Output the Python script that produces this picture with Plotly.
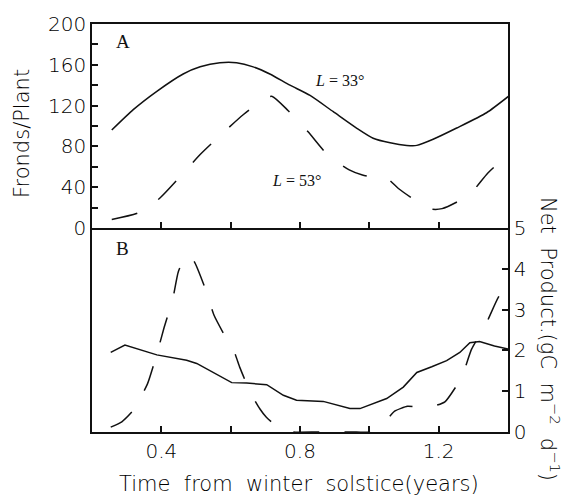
import plotly.graph_objects as go

# ---------------- data ----------------
# Panel A: Fronds/Plant
a33_x = [0.257, 0.319, 0.387, 0.463, 0.512, 0.569, 0.617, 0.665, 0.713, 0.771, 0.829,
         0.896, 0.963, 1.011, 1.060, 1.108, 1.137, 1.184, 1.252, 1.338, 1.401]
a33_y = [96, 116, 134, 151, 158, 162, 162, 158, 151, 140, 130,
         114, 98, 88, 83.5, 81, 81, 87, 98, 113, 129]

a53_x = [0.257, 0.334, 0.396, 0.456, 0.512, 0.574, 0.636, 0.699, 0.72, 0.766, 0.824,
         0.879, 0.942, 0.98, 1.026, 1.05, 1.083, 1.12, 1.15, 1.18, 1.21, 1.25, 1.29, 1.342, 1.40]
a53_y = [8.4, 14.9, 29.4, 51, 72, 92, 111, 127, 129, 115, 94,
         72, 57, 52, 49, 49, 39, 30, 23.6, 18.5, 19, 25, 33, 54, 72]

# Panel B: Net Product (gC m-2 d-1)
b33_x = [0.254, 0.295, 0.387, 0.473, 0.502, 0.56, 0.603, 0.646, 0.704, 0.752, 0.79,
         0.867, 0.906, 0.944, 0.973, 1.01, 1.05, 1.098, 1.137, 1.18, 1.223, 1.261,
         1.29, 1.318, 1.361, 1.401]
b33_y = [1.95, 2.13, 1.89, 1.76, 1.68, 1.42, 1.21, 1.20, 1.16, 0.90, 0.78,
         0.75, 0.655, 0.574, 0.574, 0.70, 0.82, 1.10, 1.46, 1.6, 1.75, 1.95,
         2.19, 2.22, 2.11, 2.03]

b53_x = [0.254, 0.286, 0.319, 0.36, 0.387, 0.408, 0.433, 0.449, 0.473, 0.494, 0.526,
         0.552, 0.59, 0.611, 0.626, 0.658, 0.684, 0.703, 0.74, 0.78, 0.85, 0.95, 1.0,
         1.04, 1.073, 1.11, 1.15, 1.18, 1.218, 1.266, 1.295, 1.336, 1.372, 1.40]
b53_y = [0.12, 0.25, 0.53, 1.18, 1.91, 2.56, 3.26, 3.93, 4.34, 4.19, 3.53,
         2.86, 2.25, 1.95, 1.59, 0.95, 0.57, 0.36, 0.1, 0, 0, 0, 0,
         0.2, 0.51, 0.63, 0.60, 0.62, 0.74, 1.34, 2.03, 2.64, 3.30, 3.61]

x_ticks = [0.4, 0.6, 0.8, 1.0, 1.2]
x_ticktext = ["0.4", "", "0.8", "", "1.2"]
a_ticks = list(range(0, 201, 20))
a_ticktext = [str(v) if v % 40 == 0 else "" for v in a_ticks]
b_ticks = [0, 1, 2, 3, 4, 5]
b_ticktext = [str(v) for v in b_ticks]

# ---------------- figure ----------------
INK = "#111111"
DASH = "26px,25px"
fig = go.Figure()
fig.add_trace(go.Scatter(x=a33_x, y=a33_y, mode="lines", xaxis="x", yaxis="y",
                         line=dict(color=INK, width=1.5, shape="spline", smoothing=0.6)))
fig.add_trace(go.Scatter(x=a53_x, y=a53_y, mode="lines", xaxis="x", yaxis="y",
                         line=dict(color=INK, width=1.5, dash=DASH, shape="spline", smoothing=0.6)))
fig.add_trace(go.Scatter(x=b33_x, y=b33_y, mode="lines", xaxis="x2", yaxis="y2",
                         line=dict(color=INK, width=1.5)))
fig.add_trace(go.Scatter(x=b53_x, y=b53_y, mode="lines", xaxis="x2", yaxis="y2",
                         line=dict(color=INK, width=1.5, dash=DASH, shape="spline", smoothing=0.5)))

tickfont = dict(family="DejaVu Sans", size=20, color="#000000", weight=300)
axcommon = dict(showline=True, linecolor=INK, linewidth=1.5,
                showgrid=False, zeroline=False, ticks="inside", ticklen=6,
                tickcolor=INK, tickwidth=1.5, tickfont=tickfont)

fig.update_layout(
    width=564, height=497,
    margin=dict(l=92, r=56, t=20, b=65),
    paper_bgcolor="white", plot_bgcolor="white",
    showlegend=False,
    xaxis=dict(range=[0.2, 1.4], domain=[0, 1], anchor="y", tickvals=x_ticks,
               showticklabels=False, mirror=True, **axcommon),
    yaxis=dict(range=[0, 200], domain=[0.5, 1], anchor="x", tickvals=a_ticks,
               ticktext=a_ticktext, mirror=True, **axcommon),
    xaxis2=dict(range=[0.2, 1.4], domain=[0, 1], anchor="y2", tickvals=x_ticks,
                ticktext=x_ticktext, mirror=False, **axcommon),
    yaxis2=dict(range=[0, 5], domain=[0, 0.5], anchor="x2", side="right",
                tickvals=b_ticks, ticktext=b_ticktext, mirror=True, **axcommon),
)

serif = dict(family="Liberation Serif", size=19, color=INK)
titlefont = dict(family="DejaVu Sans", size=21, color="#000000", weight=300)
ann = dict(showarrow=False, xanchor="center", yanchor="middle")
NB = "\u00a0"
fig.add_annotation(x=0.289, y=182.5, xref="x", yref="y", text="A", font=serif, **ann)
fig.add_annotation(x=0.289, y=4.49, xref="x2", yref="y2", text="B", font=serif, **ann)
fig.add_annotation(x=0.915, y=144.7, xref="x", yref="y", text="<i>L</i> = 33°",
                   font=dict(family="Liberation Serif", size=16, color=INK), **ann)
fig.add_annotation(x=0.791, y=46.6, xref="x", yref="y", text="<i>L</i> = 53°",
                   font=dict(family="Liberation Serif", size=16, color=INK), **ann)
fig.add_annotation(x=-0.168, y=0.7306, xref="paper", yref="paper", text="Fronds/Plant",
                   textangle=-90, font=titlefont, **ann)
fig.add_annotation(x=0.4976, y=-0.1286, xref="paper", yref="paper",
                   text=f"Time {NB}from {NB}winter {NB}solstice(years)", font=titlefont, **ann)
fig.add_annotation(x=1.101, y=0.228, xref="paper", yref="paper",
                   text=f"Net {NB}Product.(gC {NB}m<sup>−2</sup> {NB}d<sup>−1</sup>)",
                   textangle=90, font=titlefont, **ann)

fig.write_html("out.html")
